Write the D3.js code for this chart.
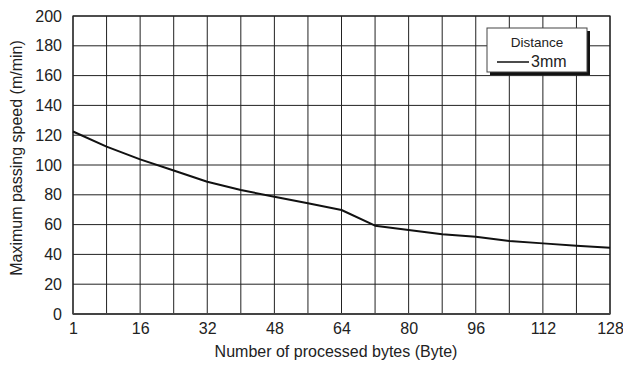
<!DOCTYPE html>
<html>
<head>
<meta charset="utf-8">
<script src="https://cdn.jsdelivr.net/npm/d3@7"></script>
<style>
  body { margin: 0; background: #fff; }
  text { font-family: "Liberation Sans", Arial, sans-serif; fill: #222; }
</style>
</head>
<body>
<div id="chart"></div>
<script>
// data
var bytes = [0, 8, 16, 24, 32, 40, 48, 56, 64, 72, 80, 88, 96, 104, 112, 120, 128];
var speed = [122.5, 112.3, 103.8, 96.3, 88.8, 83.2, 78.7, 74.3, 69.8, 59.3, 56.4, 53.6, 51.9, 49, 47.4, 45.8, 44.5];
var xTicks = [0, 16, 32, 48, 64, 80, 96, 112, 128];
var xTickLabels = ['1', '16', '32', '48', '64', '80', '96', '112', '128'];
var yTicks = [0, 20, 40, 60, 80, 100, 120, 140, 160, 180, 200];
var xGrid = d3.range(0, 129, 8);

var svgSize = {width: 623, height: 365, margin: {top: 16, right: 13, bottom: 51, left: 73}};
var width = svgSize.width - svgSize.margin.left - svgSize.margin.right;
var height = svgSize.height - svgSize.margin.top - svgSize.margin.bottom;

var svg = d3.select('#chart').append('svg')
    .attr('width', svgSize.width)
    .attr('height', svgSize.height);
var g = svg.append('g')
    .attr('transform', 'translate(' + svgSize.margin.left + ',' + svgSize.margin.top + ')');

var x = d3.scaleLinear().domain([0, 128]).range([0, width]);
var y = d3.scaleLinear().domain([0, 200]).range([height, 0]);

// grid
g.append('g').selectAll('line').data(xGrid).enter().append('line')
    .attr('x1', d => x(d)).attr('x2', d => x(d))
    .attr('y1', 0).attr('y2', height)
    .attr('stroke', '#222').attr('stroke-width', 1);
g.append('g').selectAll('line').data(yTicks).enter().append('line')
    .attr('x1', 0).attr('x2', width)
    .attr('y1', d => y(d)).attr('y2', d => y(d))
    .attr('stroke', '#222').attr('stroke-width', 1);

g.append('rect')
    .attr('width', width).attr('height', height)
    .attr('fill', 'none').attr('stroke', '#222').attr('stroke-width', 1.2);
g.append('line')
    .attr('x1', 0).attr('x2', width).attr('y1', height).attr('y2', height)
    .attr('stroke', '#444').attr('stroke-width', 2);

// tick labels
var xAxis = d3.axisBottom(x).tickValues(xTicks).tickSize(0).tickPadding(9)
    .tickFormat((d, i) => xTickLabels[i]);
g.append('g').attr('transform', 'translate(0,' + height + ')').call(xAxis)
    .call(a => a.select('.domain').remove())
    .selectAll('text').style('font-size', '16px').attr('fill', '#222');

var yAxis = d3.axisLeft(y).tickValues(yTicks).tickSize(0).tickPadding(11);
g.append('g').call(yAxis)
    .call(a => a.select('.domain').remove())
    .selectAll('text').style('font-size', '16px').attr('fill', '#222');

// line
var line = d3.line().x((d, i) => x(bytes[i])).y(d => y(d));
g.append('path').datum(speed)
    .attr('fill', 'none').attr('stroke', '#111')
    .attr('stroke-width', 2).attr('stroke-linejoin', 'round')
    .attr('d', line);

// axis titles
svg.append('text')
    .attr('transform', 'translate(22,158) rotate(-90)')
    .attr('text-anchor', 'middle')
    .style('font-size', '16px')
    .text('Maximum passing speed (m/min)');
svg.append('text')
    .attr('x', 336).attr('y', 357)
    .attr('text-anchor', 'middle')
    .style('font-size', '16px')
    .text('Number of processed bytes (Byte)');

// legend
var lg = svg.append('g').attr('transform', 'translate(487,28)');
lg.append('rect').attr('x', 3).attr('y', 3).attr('width', 100).attr('height', 44).attr('fill', '#111');
lg.append('rect').attr('width', 100).attr('height', 44).attr('fill', '#fff')
    .attr('stroke', '#444').attr('stroke-width', 1);
lg.append('text').attr('x', 50).attr('y', 19).attr('text-anchor', 'middle')
    .style('font-size', '13.5px').text('Distance');
lg.append('line').attr('x1', 10).attr('x2', 42).attr('y1', 34).attr('y2', 34)
    .attr('stroke', '#111').attr('stroke-width', 1.5);
lg.append('text').attr('x', 44).attr('y', 39)
    .style('font-size', '16px').text('3mm');
</script>
</body>
</html>
